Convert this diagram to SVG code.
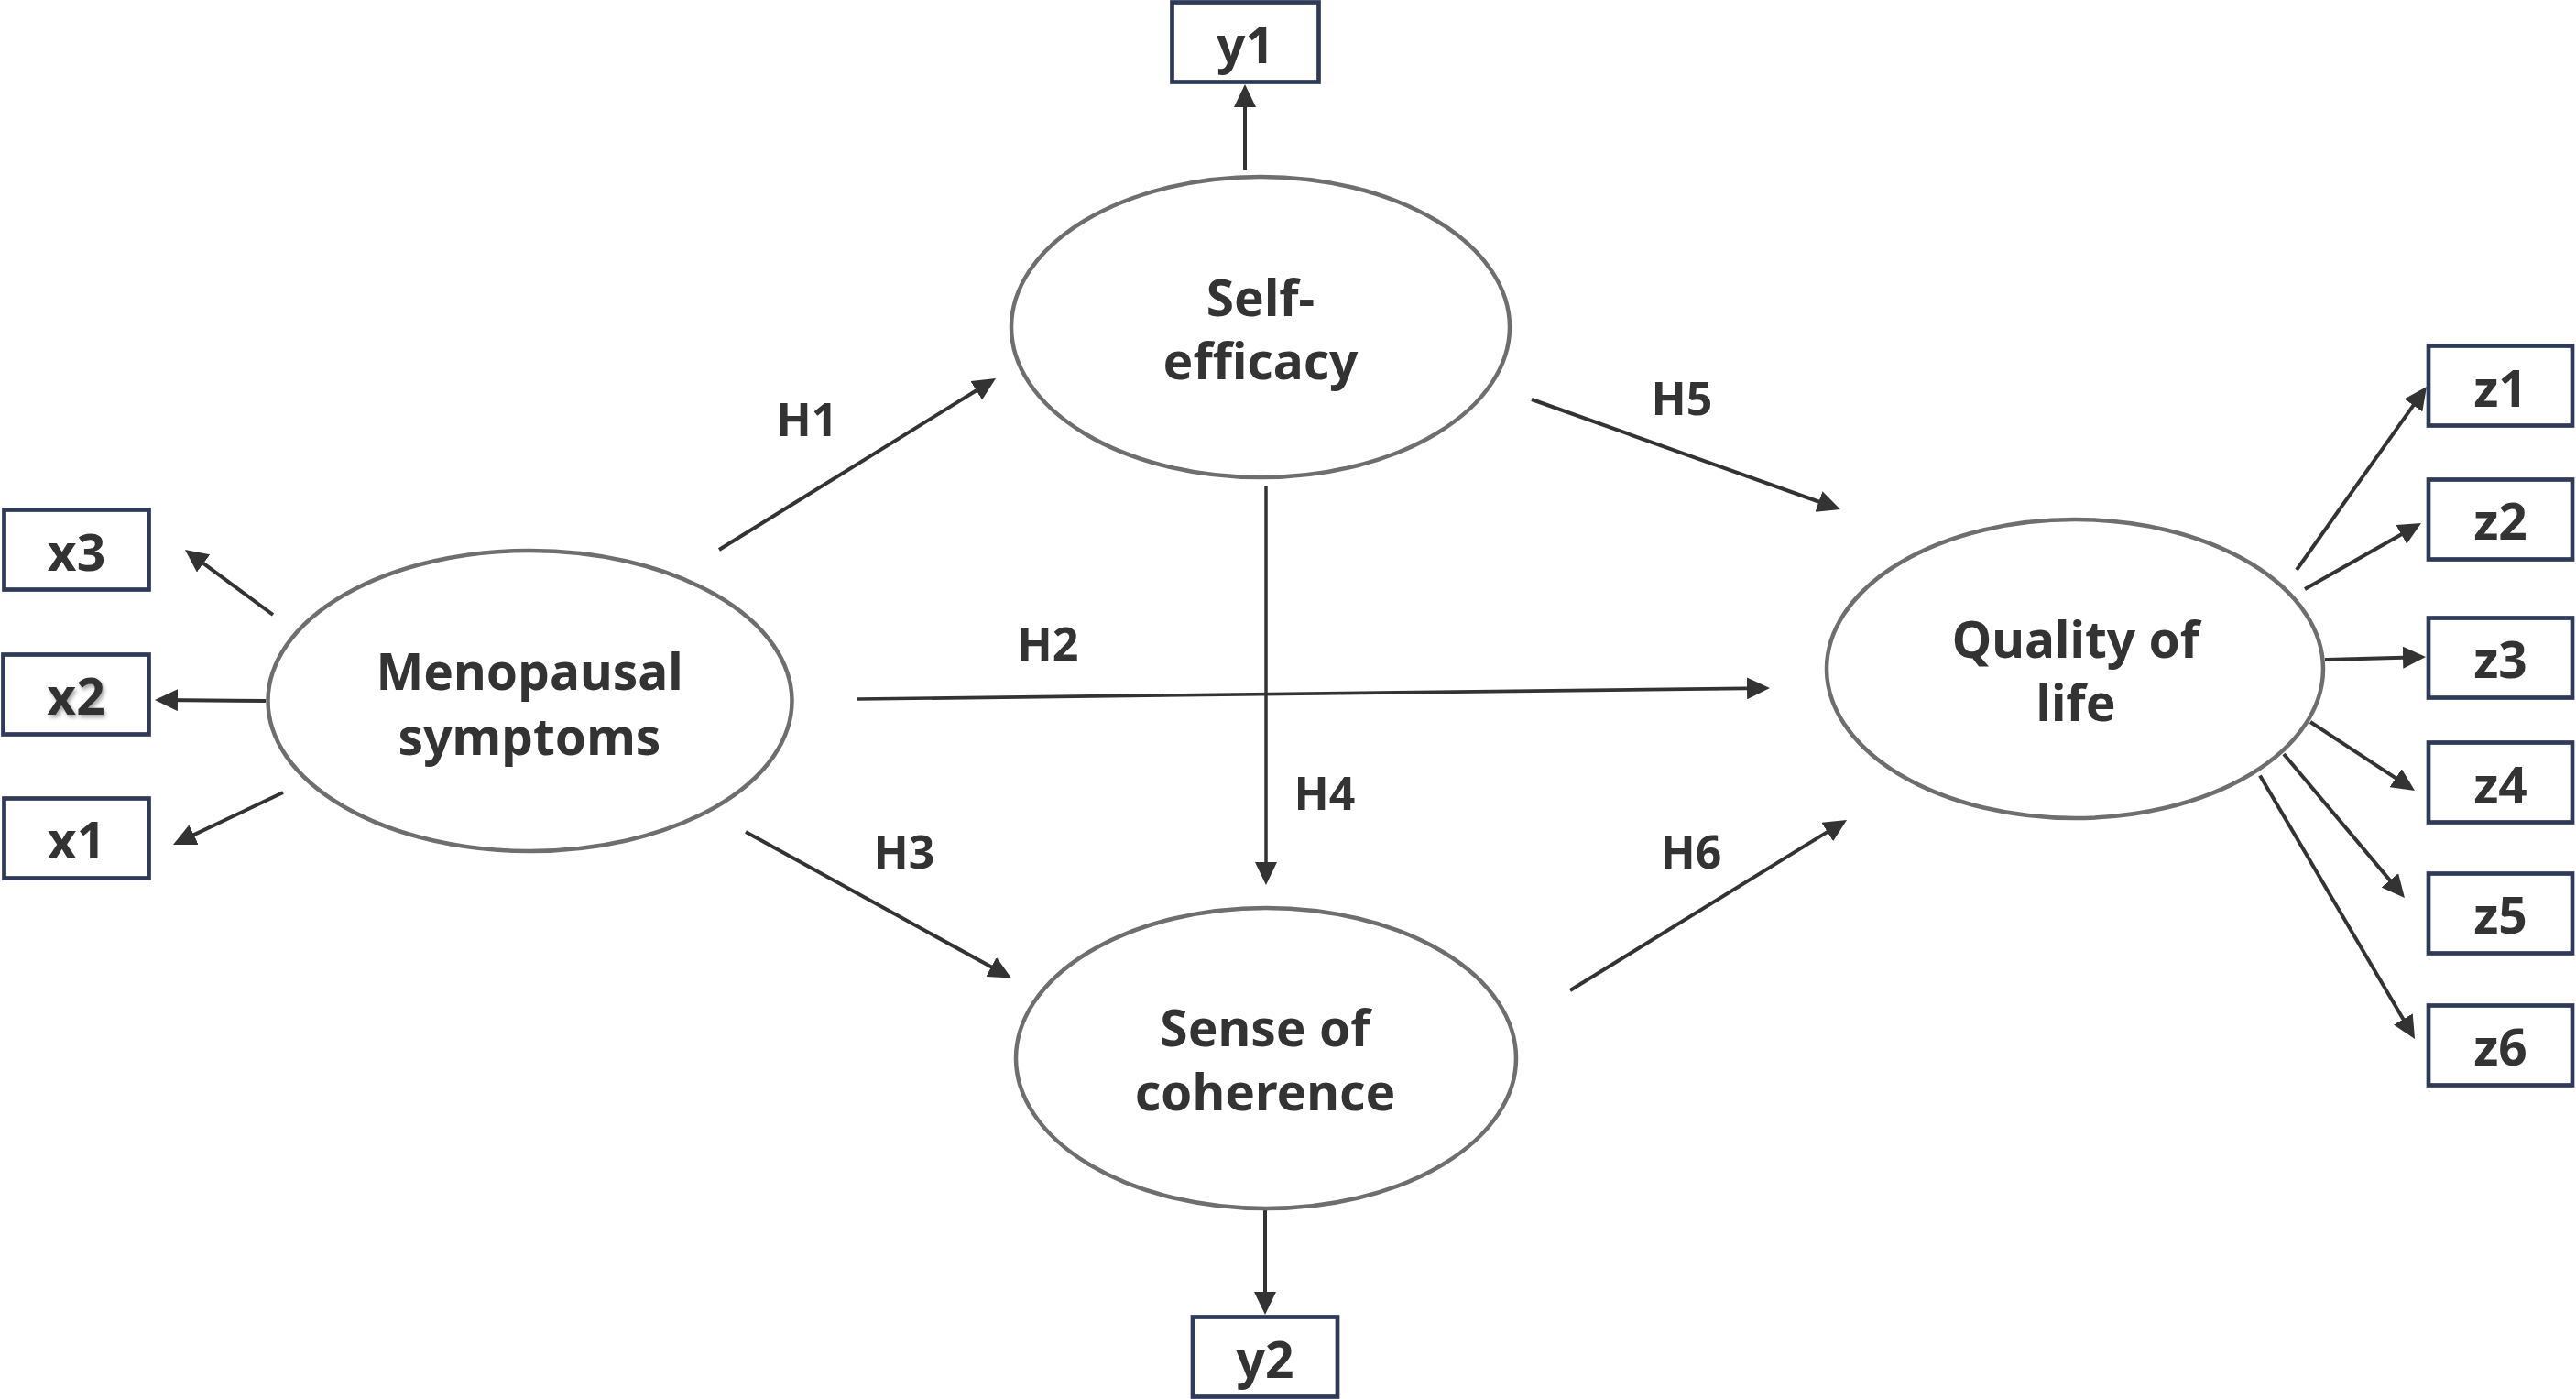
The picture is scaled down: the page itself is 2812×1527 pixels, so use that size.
<svg xmlns="http://www.w3.org/2000/svg" width="2812" height="1527" viewBox="0 0 2812 1527">
<defs>
<style>
.lat{fill:#ffffff;stroke:#6e6e6e;stroke-width:4.5}
.box{fill:#ffffff;stroke:#2e3a58;stroke-width:4.7}
.t{font-family:"Noto Sans","Open Sans","Liberation Sans",sans-serif;font-weight:bold;fill:#333333;text-anchor:middle}
.big{font-size:55px}
.ind{font-size:55px}
.h{font-size:50px}
.c{fill:none;stroke:#333333;stroke-width:4;marker-end:url(#ah)}
</style>
<marker id="ah" markerUnits="userSpaceOnUse" markerWidth="26" markerHeight="24" refX="19" refY="12" orient="auto" viewBox="0 0 26 24">
<path d="M0,0 L25,12 L0,24 z" fill="#333333"/>
</marker>
<filter id="sh" x="-20%" y="-20%" width="150%" height="150%">
<feDropShadow dx="2" dy="3" stdDeviation="2" flood-color="#000000" flood-opacity="0.35"/>
</filter>
</defs>
<rect x="0" y="0" width="2812" height="1527" fill="#ffffff"/>

<g id="connectors">
<line class="c" x1="298" y1="671" x2="206.8" y2="603.6"/>
<line class="c" x1="290" y1="765" x2="175" y2="764"/>
<line class="c" x1="309" y1="865" x2="194.4" y2="919.4"/>
<line class="c" x1="1359" y1="186" x2="1359" y2="98"/>
<line class="c" x1="785" y1="600" x2="1081.9" y2="416.2"/>
<line class="c" x1="936" y1="763" x2="1926" y2="751.1" style="stroke-width:3.7"/>
<line class="c" x1="814" y1="908" x2="1098.7" y2="1064.6"/>
<line class="c" x1="1382" y1="530" x2="1382" y2="960" style="stroke-width:3.5"/>
<line class="c" x1="1672" y1="436" x2="2003.3" y2="554"/>
<line class="c" x1="1714" y1="1081" x2="2010.9" y2="898.1"/>
<line class="c" x1="1381" y1="1321" x2="1381" y2="1429"/>
<line class="c" x1="2507" y1="622" x2="2645.5" y2="426.9"/>
<line class="c" x1="2516" y1="643" x2="2637.8" y2="574"/>
<line class="c" x1="2538" y1="720" x2="2642" y2="717.2"/>
<line class="c" x1="2522" y1="788" x2="2631" y2="859.7"/>
<line class="c" x1="2493" y1="823" x2="2621.1" y2="975.4"/>
<line class="c" x1="2467" y1="846.5" x2="2633" y2="1128.8"/>
<text class="t h" x="881" y="476">H1</text>
<text class="t h" x="1144" y="721">H2</text>
<text class="t h" x="987" y="948">H3</text>
<text class="t h" x="1446" y="884">H4</text>
<text class="t h" x="1836" y="453">H5</text>
<text class="t h" x="1846" y="948">H6</text>
</g>

<g id="menopausal">
<ellipse class="lat" cx="578.5" cy="765" rx="286" ry="164"/>
<text class="t big" x="578" y="753">Menopausal</text>
<text class="t big" x="578" y="824">symptoms</text>
</g>
<g id="self-efficacy">
<ellipse class="lat" cx="1376" cy="357" rx="272" ry="164"/>
<text class="t big" x="1376" y="345">Self-</text>
<text class="t big" x="1376" y="414">efficacy</text>
</g>
<g id="sense-of-coherence">
<ellipse class="lat" cx="1382" cy="1155" rx="273" ry="164"/>
<text class="t big" x="1381" y="1142">Sense of</text>
<text class="t big" x="1381" y="1212">coherence</text>
</g>
<g id="quality-of-life">
<ellipse class="lat" cx="2265" cy="730" rx="271" ry="163"/>
<text class="t big" x="2266" y="718">Quality of</text>
<text class="t big" x="2266" y="787">life</text>
</g>

<g id="x3"><rect class="box" x="4.5" y="556.5" width="158" height="87"/><text class="t ind" x="83.5" y="623">x3</text></g>
<g id="x2"><rect class="box" x="3.5" y="714.5" width="159" height="87"/><text class="t ind" x="83" y="780" filter="url(#sh)">x2</text></g>
<g id="x1"><rect class="box" x="4.5" y="871.5" width="158" height="87"/><text class="t ind" x="83.5" y="937">x1</text></g>
<g id="y1"><rect class="box" x="1279.5" y="2.5" width="160" height="87"/><text class="t ind" x="1359.5" y="68.5">y1</text></g>
<g id="y2"><rect class="box" x="1302" y="1437.5" width="158" height="87"/><text class="t ind" x="1381" y="1503.5">y2</text></g>
<g id="z1"><rect class="box" x="2651" y="377.5" width="157" height="87"/><text class="t ind" x="2729.5" y="443.5">z1</text></g>
<g id="z2"><rect class="box" x="2651" y="523.5" width="157" height="87"/><text class="t ind" x="2729.5" y="589">z2</text></g>
<g id="z3"><rect class="box" x="2651" y="674.5" width="157" height="87"/><text class="t ind" x="2729.5" y="740">z3</text></g>
<g id="z4"><rect class="box" x="2651" y="810.5" width="157" height="87"/><text class="t ind" x="2729.5" y="876.5">z4</text></g>
<g id="z5"><rect class="box" x="2651" y="953.5" width="157" height="87"/><text class="t ind" x="2729.5" y="1019">z5</text></g>
<g id="z6"><rect class="box" x="2651" y="1097.5" width="157" height="87"/><text class="t ind" x="2729.5" y="1163">z6</text></g>
</svg>
